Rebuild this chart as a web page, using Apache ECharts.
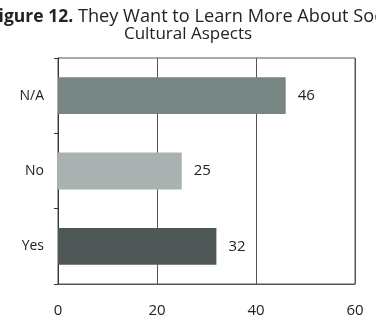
<!DOCTYPE html>
<html>
<head>
<meta charset="utf-8">
<script src="https://cdn.jsdelivr.net/npm/echarts@6/dist/echarts.min.js"></script>
<style>
  html, body { margin: 0; padding: 0; background: #fff; }
  #chart { width: 376px; height: 326px; }
</style>
</head>
<body>
<div id="chart"></div>
<script>
// data
var categories = ["Yes", "No", "N/A"];
var values = [32, 25, 46];
var barColors = ["#4f5856", "#a9b2b0", "#788683"];
var xTicks = [0, 20, 40, 60];

var font = "Open Sans";

var chart = echarts.init(document.getElementById("chart"));

var seriesData = [];
for (var i = 0; i < values.length; i++) {
	seriesData.push({
		value: values[i],
		itemStyle: { color: barColors[i] }
	});
}

chart.setOption({
	animation: false,
	title: [{
		// first line is cut off on both sides in the original
		text: "{b|Figure 12.} They Want to Learn More About Socio-",
		left: -16,
		top: 3,
		textStyle: {
			fontFamily: font,
			fontSize: 18.2,
			fontWeight: "normal",
			color: "#222",
			rich: {
				b: { fontFamily: font, fontSize: 17.5, fontWeight: "bold", color: "#222" }
			}
		}
	}, {
		text: "Cultural Aspects",
		left: "center",
		top: 21,
		textStyle: { fontFamily: font, fontSize: 17, fontWeight: "normal", color: "#222" }
	}],
	grid: {
		left: 58,
		right: 21,
		top: 58,
		bottom: 42,
		show: true,
		borderColor: "#555",
		borderWidth: 1
	},
	xAxis: {
		type: "value",
		min: xTicks[0],
		max: xTicks[xTicks.length - 1],
		interval: 20,
		axisLine: { show: true, lineStyle: { color: "#555" } },
		axisTick: { show: false },
		splitLine: { show: true, lineStyle: { color: "#555", width: 1 } },
		axisLabel: { fontFamily: font, fontSize: 15, color: "#222", margin: 19 }
	},
	yAxis: {
		type: "category",
		data: categories,
		axisLine: { show: true, lineStyle: { color: "#333" } },
		axisTick: { show: true, length: 4, lineStyle: { color: "#333" } },
		axisLabel: { fontFamily: font, fontSize: 14, color: "#222", margin: 14 }
	},
	series: [{
		type: "bar",
		data: seriesData,
		barWidth: "49%",
		label: {
			show: true,
			position: "right",
			distance: 12,
			fontFamily: font,
			fontSize: 15,
			color: "#222"
		}
	}]
});
</script>
</body>
</html>
